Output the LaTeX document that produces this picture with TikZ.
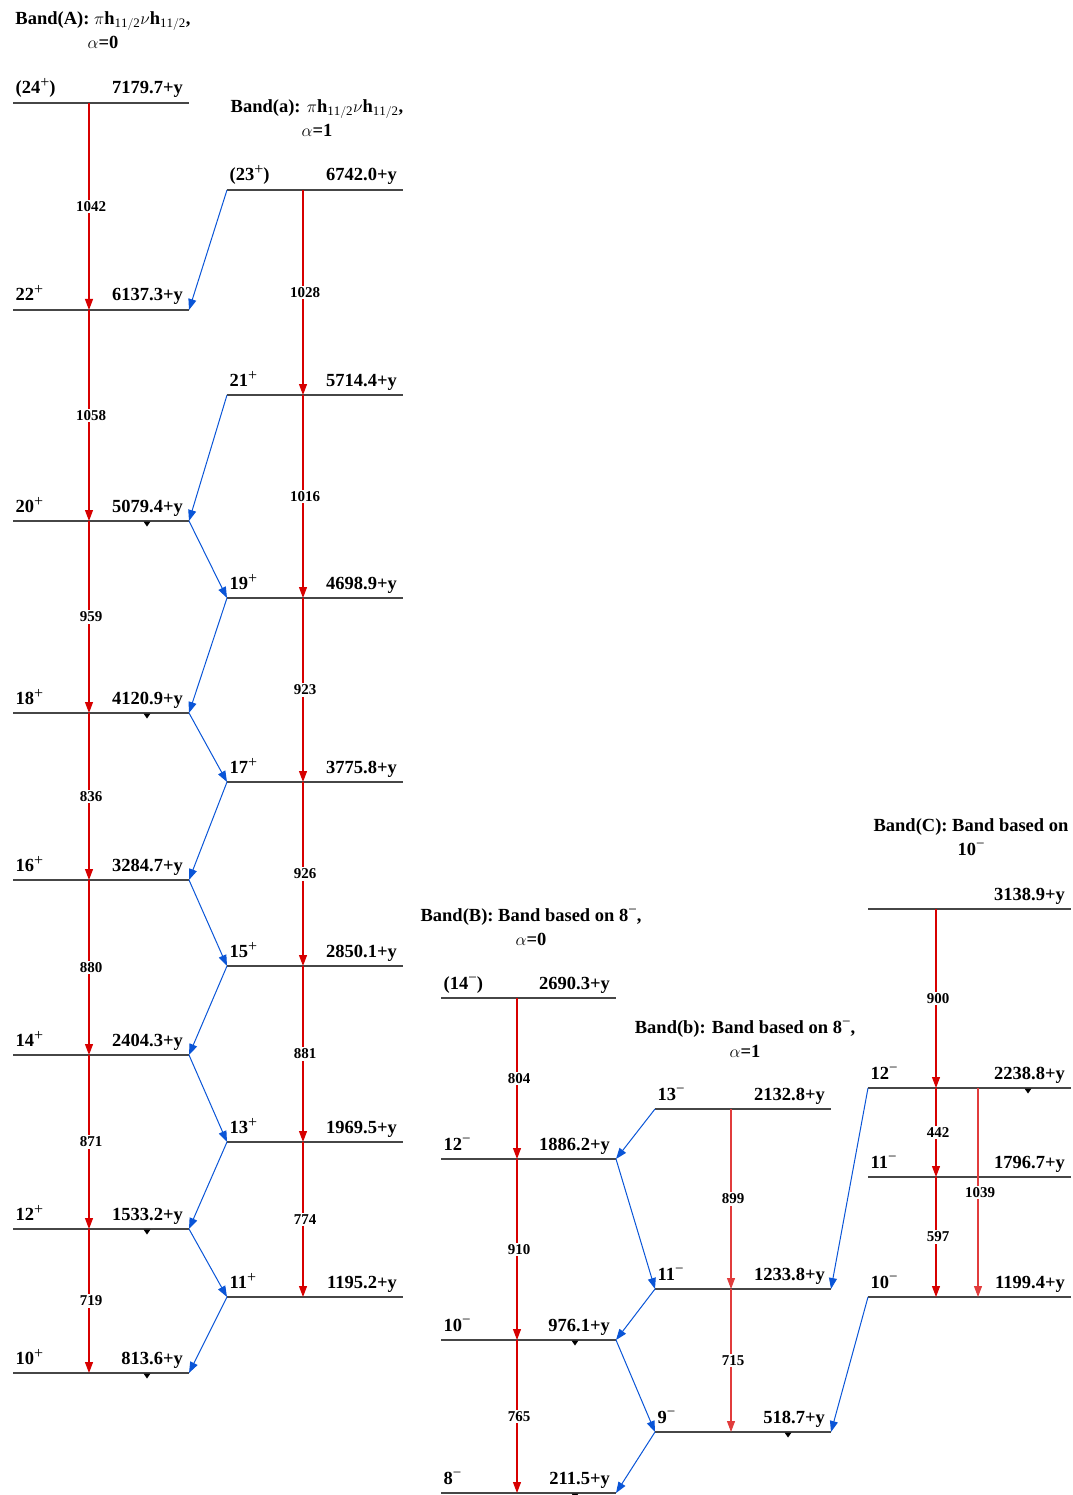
\documentclass[tikz,border=0pt]{standalone}
\usepackage{fontspec}
\setmainfont{Liberation Serif}
\usetikzlibrary{arrows.meta}
\definecolor{gred}{RGB}{215,0,0}
\definecolor{gredw}{RGB}{225,60,60}
\definecolor{tblue}{RGB}{10,85,215}
\definecolor{lgray}{RGB}{70,70,70}
\tikzset{
  level/.style={draw=lgray, line width=1.5pt},
  gam/.style={color=gred, line width=1.15pt, -{Triangle[length=11pt,width=8pt]}},
  gamw/.style={color=gredw, line width=1.05pt, -{Triangle[length=11pt,width=8pt]}},
  trans/.style={color=tblue, line width=1pt, -{Triangle[length=11pt,width=8pt]}},
  lvltxt/.style={font=\fontsize{18.5}{22}\selectfont\bfseries, inner sep=0pt},
  glab/.style={text=black, font=\fontsize{15}{17}\selectfont\bfseries, fill=white, inner sep=1.5pt, midway, xshift=2pt},
  bandtitle/.style={font=\fontsize{18.5}{24}\selectfont\bfseries, align=center, inner sep=0pt},
  isotri/.pic={\fill[black] (-3.5,0.5) -- (3.5,0.5) -- (0,5.5) -- cycle;}
}
\newcommand\supp{\raisebox{6pt}{\fontsize{16}{16}\selectfont\mdseries +}}
\newcommand\supm{\raisebox{6.5pt}{\fontsize{15}{15}\selectfont\mdseries −}}
\newcommand\lvl[6]{%
  \coordinate (#1-l) at (#2,#4);
  \coordinate (#1-r) at (#3,#4);
  \draw[level] (#1-l) -- (#1-r);
  \node[lvltxt, anchor=base west] (#1-s) at ([xshift=2.5pt,yshift=9pt]#1-l) {#5};
  \node[lvltxt, anchor=base east] (#1-e) at ([xshift=-6pt,yshift=9pt]#1-r) {#6};
}
\begin{document}
\begin{tikzpicture}[x=1pt,y=-1pt]
\useasboundingbox (0,0) rectangle (1072,1495);
% titles
\node[bandtitle] (tA) at (103,30) {Band(A): $\pi$h$_{\mathrm{11/2}}\nu$h$_{\mathrm{11/2}}$,\\$\alpha$=0};
\node[bandtitle] (ta) at (317,118) {Band(a): $\pi$h$_{\mathrm{11/2}}\nu$h$_{\mathrm{11/2}}$,\\$\alpha$=1};
\node[bandtitle] (tB) at (531,927) {Band(B): Band based on 8\supm,\\$\alpha$=0};
\node[bandtitle] (tb) at (745,1039) {Band(b): Band based on 8\supm,\\$\alpha$=1};
\node[bandtitle] (tC) at (971,837) {Band(C): Band based on\\10\supm};
% band A
\lvl{A24}{13}{189}{103}{(24\supp)}{7179.7+y}
\lvl{A22}{13}{189}{310}{22\supp}{6137.3+y}
\lvl{A20}{13}{189}{521}{20\supp}{5079.4+y}
\lvl{A18}{13}{189}{713}{18\supp}{4120.9+y}
\lvl{A16}{13}{189}{880}{16\supp}{3284.7+y}
\lvl{A14}{13}{189}{1055}{14\supp}{2404.3+y}
\lvl{A12}{13}{189}{1229}{12\supp}{1533.2+y}
\lvl{A10}{13}{189}{1373}{10\supp}{813.6+y}
% band a
\lvl{a23}{227}{403}{190}{(23\supp)}{6742.0+y}
\lvl{a21}{227}{403}{395}{21\supp}{5714.4+y}
\lvl{a19}{227}{403}{598}{19\supp}{4698.9+y}
\lvl{a17}{227}{403}{782}{17\supp}{3775.8+y}
\lvl{a15}{227}{403}{966}{15\supp}{2850.1+y}
\lvl{a13}{227}{403}{1142}{13\supp}{1969.5+y}
\lvl{a11}{227}{403}{1297}{11\supp}{1195.2+y}
% band B
\lvl{B14}{441}{616}{998}{(14\supm)}{2690.3+y}
\lvl{B12}{441}{616}{1159}{12\supm}{1886.2+y}
\lvl{B10}{441}{616}{1340}{10\supm}{976.1+y}
\lvl{B8}{441}{616}{1493}{8\supm}{211.5+y}
% band b
\lvl{b13}{655}{831}{1109}{13\supm}{2132.8+y}
\lvl{b11}{655}{831}{1289}{11\supm}{1233.8+y}
\lvl{b9}{655}{831}{1432}{9\supm}{518.7+y}
% band C
\lvl{Ct}{868}{1071}{909}{}{3138.9+y}
\lvl{C12}{868}{1071}{1088}{12\supm}{2238.8+y}
\lvl{C11}{868}{1071}{1177}{11\supm}{1796.7+y}
\lvl{C10}{868}{1071}{1297}{10\supm}{1199.4+y}
% gamma columns
\coordinate (xA) at (89,0);
\coordinate (xa) at (303,0);
\coordinate (xB) at (517,0);
\coordinate (xb) at (731,0);
\coordinate (xC) at (936,0);
\coordinate (xD) at (978,0);
% band A gammas
\draw[gam] (A24-l -| xA) -- node[glab]{1042} (A22-l -| xA);
\draw[gam] (A22-l -| xA) -- node[glab]{1058} (A20-l -| xA);
\draw[gam] (A20-l -| xA) -- node[glab]{959} (A18-l -| xA);
\draw[gam] (A18-l -| xA) -- node[glab]{836} (A16-l -| xA);
\draw[gam] (A16-l -| xA) -- node[glab]{880} (A14-l -| xA);
\draw[gam] (A14-l -| xA) -- node[glab]{871} (A12-l -| xA);
\draw[gam] (A12-l -| xA) -- node[glab]{719} (A10-l -| xA);
% band a gammas
\draw[gam] (a23-l -| xa) -- node[glab]{1028} (a21-l -| xa);
\draw[gam] (a21-l -| xa) -- node[glab]{1016} (a19-l -| xa);
\draw[gam] (a19-l -| xa) -- node[glab]{923} (a17-l -| xa);
\draw[gam] (a17-l -| xa) -- node[glab]{926} (a15-l -| xa);
\draw[gam] (a15-l -| xa) -- node[glab]{881} (a13-l -| xa);
\draw[gam] (a13-l -| xa) -- node[glab]{774} (a11-l -| xa);
% band B gammas
\draw[gam] (B14-l -| xB) -- node[glab]{804} (B12-l -| xB);
\draw[gam] (B12-l -| xB) -- node[glab]{910} (B10-l -| xB);
\draw[gam] (B10-l -| xB) -- node[glab]{765} (B8-l -| xB);
% band b gammas
\draw[gamw] (b13-l -| xb) -- node[glab]{899} (b11-l -| xb);
\draw[gamw] (b11-l -| xb) -- node[glab]{715} (b9-l -| xb);
% band C gammas
\draw[gam] (Ct-l -| xC) -- node[glab]{900} (C12-l -| xC);
\draw[gam] (C12-l -| xC) -- node[glab]{442} (C11-l -| xC);
\draw[gam] (C11-l -| xC) -- node[glab]{597} (C10-l -| xC);
\draw[gamw] (C12-l -| xD) -- node[glab]{1039} (C10-l -| xD);
% interband transitions A/a
\draw[trans] (a23-l) -- (A22-r);
\draw[trans] (a21-l) -- (A20-r);
\draw[trans] (A20-r) -- (a19-l);
\draw[trans] (a19-l) -- (A18-r);
\draw[trans] (A18-r) -- (a17-l);
\draw[trans] (a17-l) -- (A16-r);
\draw[trans] (A16-r) -- (a15-l);
\draw[trans] (a15-l) -- (A14-r);
\draw[trans] (A14-r) -- (a13-l);
\draw[trans] (a13-l) -- (A12-r);
\draw[trans] (A12-r) -- (a11-l);
\draw[trans] (a11-l) -- (A10-r);
% interband transitions B/b
\draw[trans] (b13-l) -- (B12-r);
\draw[trans] (B12-r) -- (b11-l);
\draw[trans] (b11-l) -- (B10-r);
\draw[trans] (B10-r) -- (b9-l);
\draw[trans] (b9-l) -- (B8-r);
% C to b
\draw[trans] (C12-l) -- (b11-r);
\draw[trans] (C10-l) -- (b9-r);
% small markers
\pic at (147,521) {isotri};
\pic at (147,713) {isotri};
\pic at (147,1229) {isotri};
\pic at (147,1373) {isotri};
\pic at (575,1340) {isotri};
\pic at (575,1493) {isotri};
\pic at (788,1432) {isotri};
\pic at (1028,1088) {isotri};
\end{tikzpicture}
\end{document}
